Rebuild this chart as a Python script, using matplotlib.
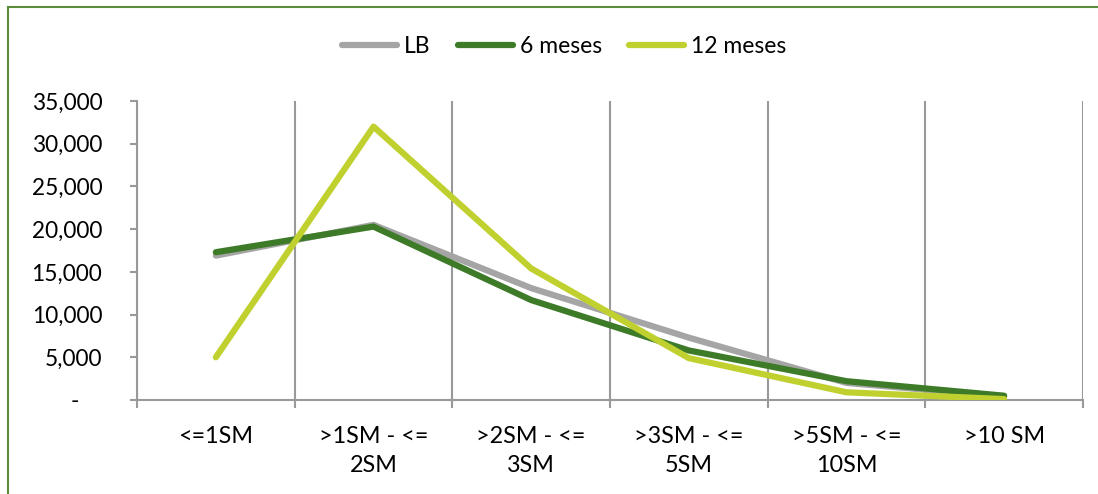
import matplotlib.pyplot as plt
from matplotlib.lines import Line2D
from matplotlib.ticker import FixedLocator, FuncFormatter

plt.rcParams['font.family'] = ['Lato', 'DejaVu Sans']

categorias = ['<=1SM', '>1SM - <=\n2SM', '>2SM - <=\n3SM', '>3SM - <=\n5SM',
              '>5SM - <=\n10SM', '>10 SM']
lb = [16900, 20500, 13100, 7300, 2000, 400]
seis_meses = [17300, 20300, 11700, 5800, 2200, 500]
doce_meses = [5000, 32000, 15400, 4900, 900, 100]

cor_lb = '#A5A5A5'
cor_6 = '#3E7B29'
cor_12 = '#C0D12F'
cor_grade = '#999999'

fig = plt.figure(figsize=(10.98, 4.94), dpi=100)
ax = fig.add_axes([0.1248, 0.1903, 0.8615, 0.6052])

x = range(len(categorias))
ax.plot(x, lb, color=cor_lb, lw=4.5, solid_capstyle='round', label='LB', zorder=3)
ax.plot(x, seis_meses, color=cor_6, lw=4.5, solid_capstyle='round', label='6 meses', zorder=4)
ax.plot(x, doce_meses, color=cor_12, lw=4.5, solid_capstyle='round', label='12 meses', zorder=5)

ax.set_xlim(-0.5, len(categorias) - 0.5)
ax.set_ylim(0, 35000)

# rótulos no centro de cada faixa, divisões com grade vertical
ax.set_xticks(list(x))
ax.set_xticklabels(categorias, fontsize=16.8, linespacing=1.42)
ax.tick_params(axis='x', which='major', length=0, pad=19)
ax.xaxis.set_minor_locator(FixedLocator([i + 0.5 for i in range(-1, len(categorias))]))
ax.tick_params(axis='x', which='minor', length=6, width=1.5, color=cor_grade, direction='out')
ax.grid(axis='x', which='minor', color=cor_grade, lw=1.5)

ax.set_yticks(range(0, 35001, 5000))
ax.yaxis.set_major_formatter(FuncFormatter(lambda v, p: '-    ' if v == 0 else f'{int(v):,}'))
ax.tick_params(axis='y', length=5, width=1.5, color=cor_grade, pad=20, labelsize=16.3)

for lado in ['top', 'right']:
    ax.spines[lado].set_visible(False)
for lado in ['left', 'bottom']:
    ax.spines[lado].set_color(cor_grade)
    ax.spines[lado].set_linewidth(1.5)

fig.legend(loc='center', bbox_to_anchor=(0.514, 0.905), ncol=3, frameon=False,
           fontsize=16.5, handlelength=2.4, columnspacing=1.2, handletextpad=0.3)

# moldura do gráfico
fig.add_artist(Line2D([8 / 1098, 1], [1 - 7 / 494, 1 - 7 / 494], color='#5B8C3A', lw=1.5))
fig.add_artist(Line2D([8 / 1098, 8 / 1098], [0, 1 - 7 / 494], color='#5B8C3A', lw=1.5))

fig.savefig('out.png', dpi=100)
